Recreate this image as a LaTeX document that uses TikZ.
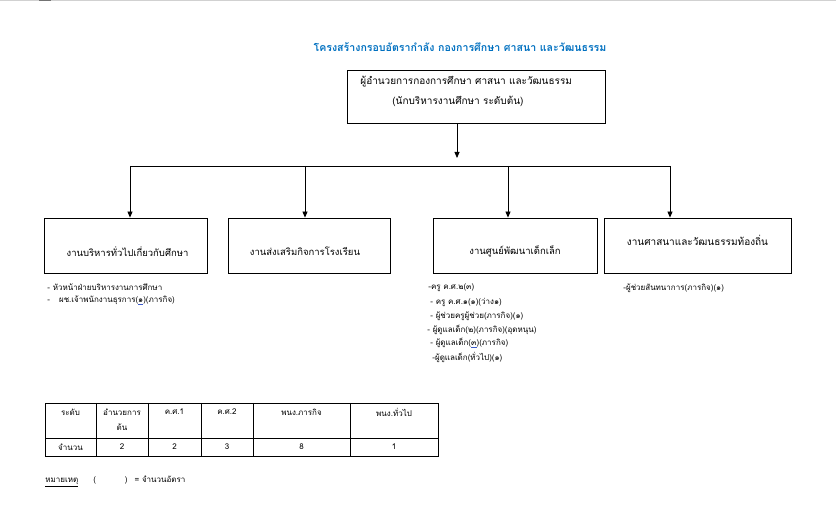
\documentclass[tikz,border=0pt]{standalone}
\usepackage{fontspec}
\setmainfont[Script=Thai]{Loma}
\usetikzlibrary{arrows.meta}
\definecolor{titleblue}{RGB}{0,112,192}
\definecolor{markblue}{RGB}{60,90,200}
\newcommand{\marked}[1]{{\color{markblue}\underline{\color{black}#1}}}

\begin{document}
\begin{tikzpicture}[x=1pt,y=-1pt,line width=0.8pt,
    box/.style={draw,inner sep=0pt,minimum height=55pt},
    boxtext/.style={inner sep=0pt,font=\fontsize{9.5}{11}\selectfont},
    item/.style={anchor=west,inner sep=0pt,font=\fontsize{8}{10}\selectfont},
    cell/.style={inner sep=0pt,font=\fontsize{8}{10}\selectfont},
    link/.style={-{Triangle[length=6pt,width=5pt]}}]
    \useasboundingbox (0,0) rectangle (836,529);
    % top edge of the page
    \fill[black!18] (0,0) rectangle (836,1.2);
    \fill[black!55] (39,0) rectangle (51,1.2);

    \node[titleblue,inner sep=0pt,font=\fontsize{10.6}{12}\selectfont\bfseries] (title) at (460,47) {โครงสร้างกรอบอัตรากำลัง กองการศึกษา ศาสนา และวัฒนธรรม};

    % head
    \node[box,minimum width=258pt,minimum height=53pt] (head) at (476,96.5) {};
    \node[boxtext,font=\fontsize{10}{12}\selectfont,anchor=west] (headname) at (360,82) {ผู้อำนวยการกองการศึกษา ศาสนา และวัฒนธรรม};
    \node[boxtext,font=\fontsize{10}{12}\selectfont,anchor=west] (headrank) at (392,101) {(นักบริหารงานศึกษา ระดับต้น)};

    \coordinate (hub) at (457,158);
    \coordinate (drop1) at (130,166);
    \coordinate (drop2) at (305,166);
    \coordinate (drop3) at (508,166);
    \coordinate (drop4) at (670,166);
    \draw[link] (head.south -| hub) -- (hub);
    \draw (drop1) -- (drop4);

    % units
    \node[box,minimum width=163pt] (admin) at (125.5,245.5) {};
    \node[box,minimum width=162pt] (school) at (309,245.5) {};
    \node[box,minimum width=164pt] (child) at (515,245.5) {};
    \node[box,minimum width=187pt] (culture) at (697.5,245.5) {};
    \node[boxtext,yshift=-6pt] (admintext) at ([xshift=2pt]admin.center) {งานบริหารทั่วไปเกี่ยวกับศึกษา};
    \node[boxtext,yshift=-6pt] (schooltext) at ([xshift=-4pt]school.center) {งานส่งเสริมกิจการโรงเรียน};
    \node[boxtext,yshift=-6pt] (childtext) at (child.center) {งานศูนย์พัฒนาเด็กเล็ก};
    \node[boxtext,font=\fontsize{10}{12}\selectfont,yshift=5pt] (culturetext) at (culture.center) {งานศาสนาและวัฒนธรรมท้องถิ่น};

    \draw[link] (drop1) -- (drop1 |- admin.north);
    \draw[link] (drop2) -- (drop2 |- school.north);
    \draw[link] (drop3) -- (drop3 |- child.north);
    \draw[link] (drop4) -- (drop4 |- culture.north);

    % staff
    \node[item] (admin1) at (47,287) {- หัวหน้าฝ่ายบริหารงานการศึกษา};
    \node[item] (admin2) at (47,300) {-\hspace{9pt}ผช.เจ้าพนักงานธุรการ(\marked{๑})(ภารกิจ)};
    \node[item] (child1) at (428,288) {-ครู ค.ศ.๒(๓)};
    \node[item] (child2) at (430,302) {- ครู ค.ศ.๑(๑)(ว่าง๑)};
    \node[item] (child3) at (430,316) {- ผู้ช่วยครูผู้ช่วย(ภารกิจ)(๑)};
    \node[item] (child4) at (427,330) {- ผู้ดูแลเด็ก(๒)(ภารกิจ)(อุดหนุน)};
    \node[item] (child5) at (430,343) {- ผู้ดูแลเด็ก(\marked{๓})(ภารกิจ)};
    \node[item] (child6) at (432,357) {-ผู้ดูแลเด็ก(ทั่วไป)(๑)};
    \node[item] (culture1) at (623,288) {-ผู้ช่วยสันทนาการ(ภารกิจ)(๑)};

    % table
    \draw (45,403) rectangle (438,456);
    \draw (45,438) -- (438,438);
    \foreach \x in {96,148,201,253,350}
        \draw (\x,403) -- (\x,456);
    \node[cell] (level) at (70.5,412) {ระดับ};
    \node[cell] (dir) at (122,412) {อำนวยการ};
    \node[cell] (dirlow) at (122,427) {ต้น};
    \node[cell] (ks1) at (174.5,412) {ค.ศ.1};
    \node[cell] (ks2) at (227,412) {ค.ศ.2};
    \node[cell] (mission) at (301.5,412) {พนง.ภารกิจ};
    \node[cell] (general) at (394,412) {พนง.ทั่วไป};
    \node[cell] (count) at (70.5,447) {จำนวน};
    \foreach \x/\n in {122/2,174.5/2,227/3,301.5/8,394/1}
        \node[cell] at (\x,447) {\n};

    \node[item] (note) at (45,481) {\underline{หมายเหตุ}\hspace{15pt}(\hspace{29pt})\hspace{7pt}= จำนวนอัตรา};
\end{tikzpicture}
\end{document}
